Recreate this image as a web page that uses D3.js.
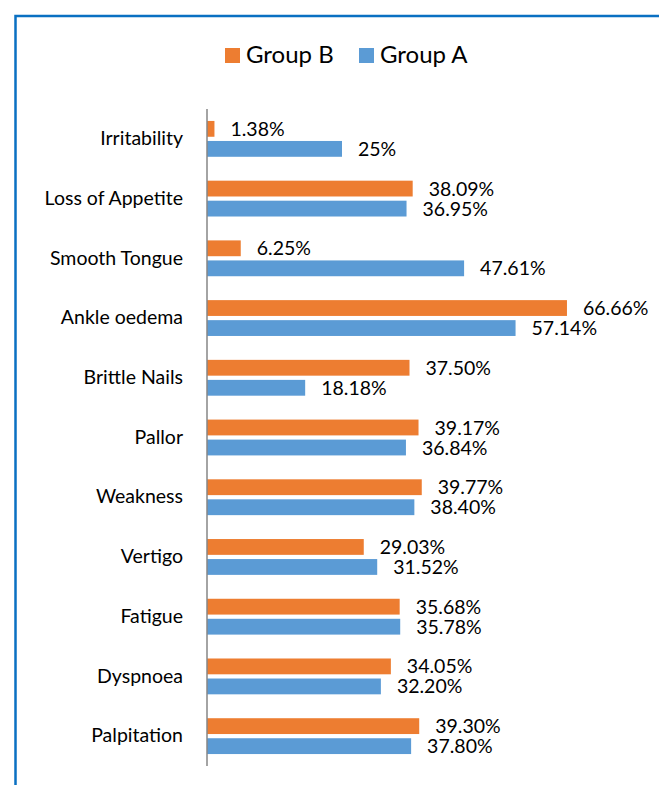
<!DOCTYPE html>
<html>
<head>
<meta charset="utf-8">
<script src="https://cdn.jsdelivr.net/npm/d3@7"></script>
<style>
  html, body { margin: 0; padding: 0; background: #fff; overflow: hidden; }
  text { font-family: Lato, "Open Sans", sans-serif; fill: #000; }
</style>
</head>
<body>
<div id="chart"></div>
<script>
// symptoms, top to bottom as in the figure
const categories = ["Irritability", "Loss of Appetite", "Smooth Tongue", "Ankle oedema", "Brittle Nails",
    "Pallor", "Weakness", "Vertigo", "Fatigue", "Dyspnoea", "Palpitation"];
const seriesNames = ["Group B", "Group A"];
const groupB = [1.38, 38.09, 6.25, 66.66, 37.50, 39.17, 39.77, 29.03, 35.68, 34.05, 39.30];
const groupA = [25, 36.95, 47.61, 57.14, 18.18, 36.84, 38.40, 31.52, 35.78, 32.20, 37.80];
const labelsB = ["1.38%", "38.09%", "6.25%", "66.66%", "37.50%", "39.17%", "39.77%", "29.03%", "35.68%", "34.05%", "39.30%"];
const labelsA = ["25%", "36.95%", "47.61%", "57.14%", "18.18%", "36.84%", "38.40%", "31.52%", "35.78%", "32.20%", "37.80%"];

const colors = { "Group B": "#ED7D31", "Group A": "#5B9BD5" };
const W = 659, H = 785;

const svg = d3.select("#chart").append("svg")
    .attr("width", W)
    .attr("height", H);

// frame (runs off the right and bottom edges)
svg.append("rect")
    .attr("x", 15.5).attr("y", 16)
    .attr("width", 800).attr("height", 900)
    .attr("fill", "none")
    .attr("stroke", "#0A70C2")
    .attr("stroke-width", 2.5);

// scales
const x = d3.scaleLinear().domain([0, 80]).range([207, 207 + 80 * 5.40]);
const y = d3.scaleBand().domain(categories).range([109, 766]).paddingInner(0.4).paddingOuter(0.2);
const ySub = d3.scaleBand().domain(seriesNames).range([0, y.bandwidth()]).paddingInner(0.21);

const rows = categories.map((c, i) => ({
    cat: c,
    values: [
        { name: "Group B", v: groupB[i], label: labelsB[i] },
        { name: "Group A", v: groupA[i], label: labelsA[i] }
    ]
}));

const groups = svg.selectAll(".grp")
    .data(rows)
    .enter()
    .append("g")
    .attr("class", "grp")
    .attr("transform", d => `translate(0,${y(d.cat)})`);

groups.selectAll("rect")
    .data(d => d.values)
    .enter()
    .append("rect")
    .attr("x", x(0))
    .attr("y", d => ySub(d.name))
    .attr("width", d => x(d.v) - x(0))
    .attr("height", ySub.bandwidth())
    .attr("fill", d => colors[d.name]);

groups.selectAll(".lbl")
    .data(d => d.values)
    .enter()
    .append("text")
    .attr("class", "lbl")
    .attr("x", d => x(d.v) + 16)
    .attr("y", d => ySub(d.name) + ySub.bandwidth() / 2)
    .attr("dy", "0.36em")
    .style("font-size", "19.5px")
    .text(d => d.label);

// category axis
const yAxis = svg.append("g")
    .attr("transform", `translate(${x(0)},0)`)
    .call(d3.axisLeft(y).tickSize(0).tickPadding(24));
yAxis.select(".domain")
    .attr("d", `M0,109V766`)
    .attr("stroke", "#868686")
    .attr("stroke-width", 1.5);
yAxis.selectAll("text")
    .style("font-size", "19.5px")
    .style("font-family", "Lato, 'Open Sans', sans-serif")
    .attr("fill", "#000");

// legend
const legendX = [225, 359];
const legend = svg.selectAll(".leg")
    .data(seriesNames)
    .enter()
    .append("g")
    .attr("class", "leg")
    .attr("transform", (d, i) => `translate(${legendX[i]},48)`);
legend.append("rect")
    .attr("width", 15).attr("height", 15)
    .attr("fill", d => colors[d]);
legend.append("text")
    .attr("x", 21)
    .attr("y", 15.3)
    .style("font-size", "24px")
    .text(d => d);
</script>
</body>
</html>
